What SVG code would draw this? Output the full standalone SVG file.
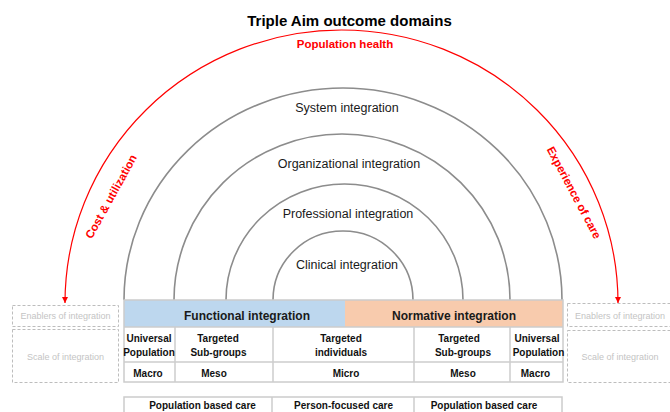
<svg xmlns="http://www.w3.org/2000/svg" width="670" height="412" viewBox="0 0 670 412">
<defs>
<style>
text{font-family:"Liberation Sans",Arial,sans-serif;}
.title{font-size:15px;font-weight:bold;fill:#000;text-anchor:middle;}
.red{font-size:11.5px;font-weight:bold;fill:#ff0000;text-anchor:middle;}
.arcl{font-size:12.5px;fill:#1a1a1a;text-anchor:middle;}
.arc{fill:none;stroke:#8c8c8c;stroke-width:1.6;}
.band{font-size:12px;font-weight:bold;fill:#1a1a1a;text-anchor:middle;}
.cell{font-size:10px;font-weight:bold;fill:#111;text-anchor:middle;}
.grid{fill:none;stroke:#cccccc;stroke-width:1.5;}
.dash{fill:none;stroke:#bdbdbd;stroke-width:1;stroke-dasharray:3,2;}
.ghost{font-size:9px;fill:#c4c4c4;text-anchor:middle;}
</style>
<marker id="ah" viewBox="0 0 10 10" refX="10" refY="5" markerWidth="6" markerHeight="6" markerUnits="userSpaceOnUse" orient="auto-start-reverse">
<path d="M0,0 L10,5 L0,10 z" fill="#ff0000"/>
</marker>
</defs>
<rect width="670" height="412" fill="#ffffff"/>

<g id="title"><text class="title" x="349.5" y="25.5">Triple Aim outcome domains</text></g>

<g id="connectors">
<path d="M65,303 A276.5,273 0 0 1 618,303" fill="none" stroke="#ff0000" stroke-width="1.2" marker-start="url(#ah)" marker-end="url(#ah)"/>
</g>

<g id="triple-aim-labels">
<text class="red" x="345" y="47.5">Population health</text>
<text class="red" transform="translate(114.5,198.5) rotate(-61)">Cost &amp; utilization</text>
<text class="red" transform="translate(570.5,194.5) rotate(62)">Experience of care</text>
</g>

<g id="system-integration">
<path class="arc" d="M124,300 A219,212 0 0 1 562,300"/>
<text class="arcl" x="347" y="112">System integration</text>
</g>
<g id="organizational-integration">
<path class="arc" d="M174,300 A168,166 0 0 1 510,300"/>
<text class="arcl" x="349" y="168">Organizational integration</text>
</g>
<g id="professional-integration">
<path class="arc" d="M226,300 A118.5,116 0 0 1 463,300"/>
<text class="arcl" x="348" y="217.5">Professional integration</text>
</g>
<g id="clinical-integration">
<path class="arc" d="M273,300 A70,69 0 0 1 413,300"/>
<text class="arcl" x="347" y="269">Clinical integration</text>
</g>

<g id="functional-integration">
<rect x="124" y="300" width="221" height="27" fill="#bdd7ee"/>
<text class="band" x="247" y="320">Functional integration</text>
</g>
<g id="normative-integration">
<rect x="345" y="300" width="218" height="27" fill="#f8cbad"/>
<text class="band" x="454" y="320">Normative integration</text>
</g>

<g id="scale-table">
<rect class="grid" x="124" y="300" width="439" height="82"/>
<line class="grid" x1="124" y1="327" x2="563" y2="327"/>
<line class="grid" x1="124" y1="362" x2="563" y2="362"/>
<line class="grid" x1="175" y1="327" x2="175" y2="382"/>
<line class="grid" x1="273" y1="327" x2="273" y2="382"/>
<line class="grid" x1="414" y1="327" x2="414" y2="382"/>
<line class="grid" x1="510" y1="327" x2="510" y2="382"/>
</g>
<g id="cell-universal-left">
<text class="cell" x="149" y="342">Universal</text>
<text class="cell" x="149" y="355.5">Population</text>
<text class="cell" x="148" y="376.5">Macro</text>
</g>
<g id="cell-subgroups-left">
<text class="cell" x="218" y="342">Targeted</text>
<text class="cell" x="218.5" y="355.5">Sub-groups</text>
<text class="cell" x="214" y="376.5">Meso</text>
</g>
<g id="cell-individuals">
<text class="cell" x="341" y="342">Targeted</text>
<text class="cell" x="341" y="355.5">individuals</text>
<text class="cell" x="346" y="376.5">Micro</text>
</g>
<g id="cell-subgroups-right">
<text class="cell" x="459" y="342">Targeted</text>
<text class="cell" x="463" y="355.5">Sub-groups</text>
<text class="cell" x="463" y="376.5">Meso</text>
</g>
<g id="cell-universal-right">
<text class="cell" x="537" y="342">Universal</text>
<text class="cell" x="538.5" y="355.5">Population</text>
<text class="cell" x="535.5" y="376.5">Macro</text>
</g>

<g id="care-table">
<rect class="grid" x="124" y="397" width="438" height="22"/>
<line class="grid" x1="272" y1="397" x2="272" y2="412"/>
<line class="grid" x1="414" y1="397" x2="414" y2="412"/>
<text class="cell" x="202.5" y="408.5">Population based care</text>
<text class="cell" x="343.5" y="408.5">Person-focused care</text>
<text class="cell" x="484" y="408.5">Population based care</text>
</g>

<g id="left-enablers">
<rect class="dash" x="12.5" y="305.5" width="106" height="21"/>
<text class="ghost" x="65.5" y="318.5">Enablers of integration</text>
</g>
<g id="left-scale">
<rect class="dash" x="12.5" y="329.5" width="106" height="53"/>
<text class="ghost" x="65.5" y="359.5">Scale of integration</text>
</g>
<g id="right-enablers">
<rect class="dash" x="567.5" y="303.5" width="106" height="23"/>
<text class="ghost" x="620" y="318.5">Enablers of integration</text>
</g>
<g id="right-scale">
<rect class="dash" x="567.5" y="330.5" width="106" height="52"/>
<text class="ghost" x="620" y="359.5">Scale of integration</text>
</g>
</svg>
